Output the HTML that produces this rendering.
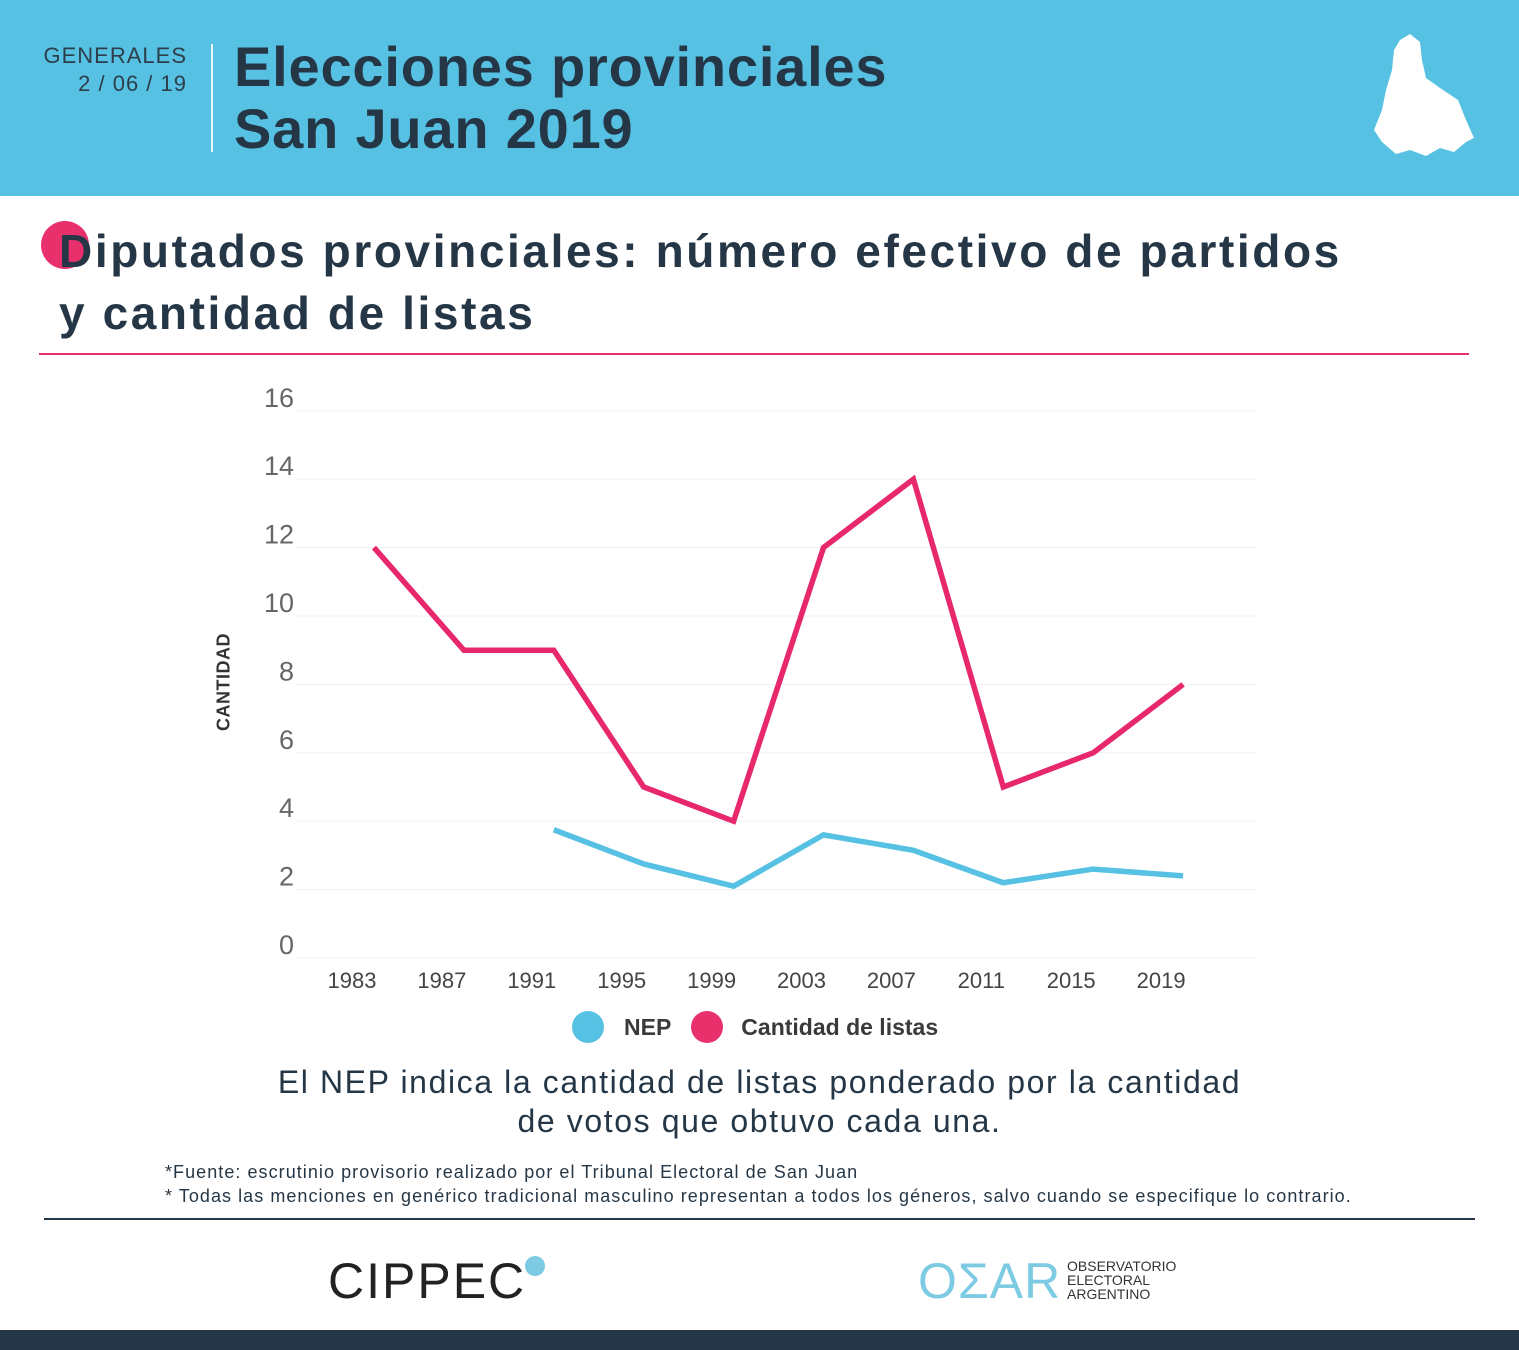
<!DOCTYPE html>
<html><head><meta charset="utf-8"><style>
body{margin:0;width:1519px;height:1350px;position:relative;background:#fff;font-family:"Liberation Sans",sans-serif;overflow:hidden;color:#253746}
.abs{position:absolute}
</style></head><body>
<div class="abs" style="left:0;top:0;width:1519px;height:196px;background:#57c1e3"></div>
<div class="abs" style="left:30px;top:42px;width:157px;text-align:right;font-size:22px;line-height:28px;color:#2d3e4a;letter-spacing:1px">GENERALES<br>2 / 06 / 19</div>
<div class="abs" style="left:211px;top:44px;width:2px;height:108px;background:#e8f6fb"></div>
<div class="abs" style="left:234px;top:36px;font-size:56px;font-weight:bold;line-height:62px;color:#253746;letter-spacing:0.8px">Elecciones provinciales<br>San Juan 2019</div>
<svg class="abs" style="left:1370px;top:30px" width="110" height="130"><path d="M30 10 L40 4 L50 12 L52 30 L56 48 L70 58 L88 70 L96 90 L104 108 L96 112 L84 122 L70 118 L56 126 L40 120 L26 124 L12 112 L4 100 L12 80 L16 60 L22 40 L24 20 Z" fill="#fff"/></svg>
<div class="abs" style="left:41px;top:221px;width:48px;height:48px;border-radius:50%;background:#e8306d"></div>
<div class="abs" style="left:59px;top:220px;font-size:46px;font-weight:bold;line-height:62px;color:#253746;letter-spacing:2.6px">Diputados provinciales: número efectivo de partidos<br>y cantidad de listas</div>
<div class="abs" style="left:39px;top:353px;width:1430px;height:2px;background:#e8306d"></div>
<svg class="abs" id="chart" style="left:0;top:0" width="1519" height="1060"></svg>
<div class="abs" style="left:224px;top:682px;transform:translate(-50%,-50%) rotate(-90deg);font-size:18px;font-weight:bold;color:#333;white-space:nowrap;letter-spacing:0.5px">CANTIDAD</div>
<div class="abs" style="left:572px;top:1010px;height:34px;display:flex;align-items:center;font-size:23px;font-weight:bold;color:#3a3a3a">
<span style="display:flex;align-items:center"><span style="width:32px;height:32px;border-radius:50%;background:#57c1e3;display:inline-block;margin-right:20px"></span>NEP</span>
<span style="display:flex;align-items:center;margin-left:20px"><span style="width:32px;height:32px;border-radius:50%;background:#e8306d;display:inline-block;margin-right:18px"></span>Cantidad de listas</span></div>
<div class="abs" style="left:0;width:1519px;top:1063px;text-align:center;font-size:32px;line-height:39px;color:#253746;letter-spacing:1.6px">El NEP indica la cantidad de listas ponderado por la cantidad<br>de votos que obtuvo cada una.</div>
<div class="abs" style="left:165px;top:1160px;font-size:18px;line-height:24px;color:#253746;letter-spacing:1.05px">*Fuente: escrutinio provisorio realizado por el Tribunal Electoral de San Juan<br>* Todas las menciones en genérico tradicional masculino representan a todos los géneros, salvo cuando se especifique lo contrario.</div>
<div class="abs" style="left:44px;top:1218px;width:1431px;height:2px;background:#253746"></div>
<div class="abs" style="left:328px;top:1252px;font-size:50px;font-weight:300;color:#222;letter-spacing:2px">CIPPEC</div>
<div class="abs" style="left:525px;top:1256px;width:20px;height:20px;border-radius:50%;background:#7ccbe3"></div>
<div class="abs" style="left:918px;top:1252px;font-size:50px;color:#7ccbe3;letter-spacing:1px">OΣAR</div>
<div class="abs" style="left:1067px;top:1259px;font-size:14px;line-height:14px;color:#333">OBSERVATORIO<br>ELECTORAL<br>ARGENTINO</div>
<div class="abs" style="left:0;top:1330px;width:1519px;height:20px;background:#253746"></div>
<script>
const years=["1983","1987","1991","1995","1999","2003","2007","2011","2015","2019"];
const listas=[12,9,9,5,4,12,14,5,6,8];
const nep=[null,null,3.75,2.75,2.1,3.6,3.15,2.2,2.6,2.4];
const yTicks=[0,2,4,6,8,10,12,14,16];
const svg=document.getElementById('chart');const NS='http://www.w3.org/2000/svg';
const x=i=>374+i*89.9;const y=v=>958-v*34.2;
function mk(t,a){const e=document.createElementNS(NS,t);for(const k in a)e.setAttribute(k,a[k]);svg.appendChild(e);return e;}
yTicks.forEach(v=>{
const g=mk('line',{x1:296,x2:1256,y1:y(v),y2:y(v),stroke:'#f0f0f0','stroke-width':1});


const t=mk('text',{x:294,y:y(v)-4,'text-anchor':'end','font-size':27,fill:'#666','font-weight':300,'font-family':'Liberation Sans,sans-serif'});t.textContent=v;


});
years.forEach((yr,i)=>{const t=mk('text',{x:x(i)-22,y:988,'text-anchor':'middle','font-size':22,fill:'#444','font-family':'Liberation Sans,sans-serif'});t.textContent=yr;

});
function line(vals,c,name){let d='';vals.forEach((v,i)=>{if(v==null)return;d+=(d?'L':'M')+x(i)+' '+y(v);});
const p=mk('path',{d:d,fill:'none',stroke:c,'stroke-width':5.5,'stroke-linejoin':'miter'});

}
line(listas,'#e8286c','listas-line');
line(nep,'#57c1e3','nep-line');
</script>
</body></html>
